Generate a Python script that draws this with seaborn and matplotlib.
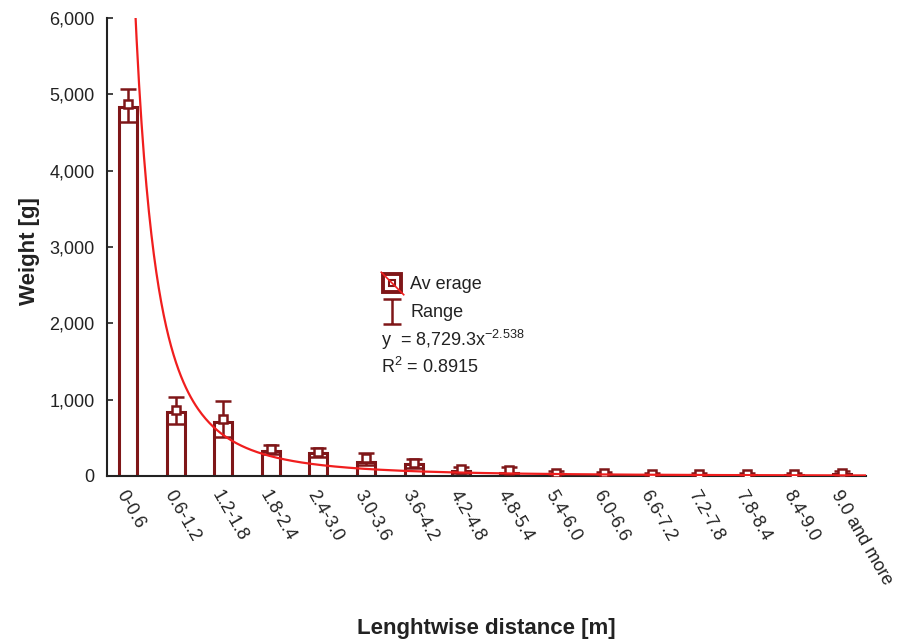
import numpy as np
import pandas as pd
import matplotlib
matplotlib.use("Agg")
import matplotlib.pyplot as plt
import seaborn as sns
from matplotlib.ticker import FuncFormatter
from matplotlib.lines import Line2D
from matplotlib.path import Path
from matplotlib.legend_handler import HandlerTuple

categories = ["0-0.6", "0.6-1.2", "1.2-1.8", "1.8-2.4", "2.4-3.0", "3.0-3.6",
              "3.6-4.2", "4.2-4.8", "4.8-5.4", "5.4-6.0", "6.0-6.6", "6.6-7.2",
              "7.2-7.8", "7.8-8.4", "8.4-9.0", "9.0 and more"]
bar_weight = [4840, 842, 712, 332, 297, 188, 153, 70, 45, 22, 18, 12, 12, 12, 12, 20]
avg_weight = [4870, 865, 747, 355, 319, 240, 175, 95, 78, 45, 42, 30, 30, 30, 30, 45]
range_low = [4642, 677, 515, 290, 255, 140, 110, 45, 35, 20, 20, 12, 12, 12, 12, 18]
range_high = [5066, 1039, 983, 406, 363, 297, 218, 122, 115, 60, 55, 40, 40, 40, 40, 60]
fit_a = 8729.3
fit_b = -2.538
r_squared = 0.8915

dark = "#7f1618"
red = "#f01e1e"
txt = "#222222"

sns.set_theme(style="white")
plt.rcParams['font.family'] = ['Liberation Sans', 'DejaVu Sans']
plt.rcParams['mathtext.fontset'] = 'custom'
plt.rcParams['mathtext.rm'] = 'Liberation Sans'
plt.rcParams['mathtext.it'] = 'Liberation Sans:italic'

fig = plt.figure(figsize=(9.01, 6.42), dpi=100)
ax = fig.add_axes([0.1188, 0.2586, 0.961 - 0.1188, 0.972 - 0.2586])

df = pd.DataFrame({"cat": categories, "w": bar_weight})
sns.barplot(data=df, x="cat", y="w", color="white", edgecolor=dark,
            linewidth=2.2, width=0.38, errorbar=None, ax=ax, zorder=2)
for p in ax.patches:
    p.set_facecolor("white")
    p.set_edgecolor(dark)

pos = np.arange(len(categories))
avg = np.array(avg_weight)
lo = np.array(range_low)
hi = np.array(range_high)
ax.errorbar(pos, avg, yerr=[np.maximum(avg - lo, 0), np.maximum(hi - avg, 0)],
            fmt="none", ecolor=dark, elinewidth=1.8, capsize=6, capthick=1.8, zorder=3)
ax.plot(pos, avg, linestyle="none", marker="s", markersize=6, mfc="white",
        mec=dark, mew=1.8, zorder=4)

xs = np.linspace(0, len(categories) - 0.5, 600)
ys = fit_a * (xs + 1) ** fit_b
sns.lineplot(x=xs, y=ys, color=red, linewidth=1.6, ax=ax, zorder=5)

ax.set_xlim(-0.44, 15.5)
ax.set_ylim(0, 6000)
ax.set_yticks([0, 1000, 2000, 3000, 4000, 5000, 6000])
ax.yaxis.set_major_formatter(FuncFormatter(lambda v, p: f"{int(v):,}"))
ax.set_xticks(pos)
ax.set_xticklabels(categories, rotation=-60, ha="left", va="top",
                   rotation_mode="anchor", fontsize=13, color=txt)
for lab in ax.get_yticklabels():
    lab.set_fontsize(13)
    lab.set_color(txt)

for s in ["top", "right"]:
    ax.spines[s].set_visible(False)
for s in ["left", "bottom"]:
    ax.spines[s].set_color(txt)
    ax.spines[s].set_linewidth(1.5)
ax.tick_params(axis="both", direction="in", length=4, width=1.2, color=txt,
               left=True, bottom=True, pad=9)
ax.tick_params(axis="x", pad=8)

ax.set_xlabel("Lenghtwise distance [m]", fontsize=16, fontweight="bold",
              color=txt, labelpad=0)
ax.xaxis.set_label_coords(0.5, -0.31)
ax.set_ylabel("Weight [g]", fontsize=16, fontweight="bold", color=txt)
ax.yaxis.set_label_coords(-0.088, 0.49)

# legend
outer = Line2D([], [], linestyle="none", marker="s", markersize=13, mfc="white",
               mec=dark, mew=2.8)
inner = Line2D([], [], linestyle="none", marker="s", markersize=4, mfc="none",
               mec=dark, mew=1.5)
diag = Line2D([], [], linestyle="none", marker=Path([(-1, 1), (1, -1)]),
              markersize=17, mec=red, mew=1.2)
ibeam = Path([(-0.75, -1), (0.75, -1), (0, -1), (0, 1), (-0.75, 1), (0.75, 1)],
             [Path.MOVETO, Path.LINETO, Path.MOVETO, Path.LINETO, Path.MOVETO, Path.LINETO])
h_rng = Line2D([], [], linestyle="none", marker=ibeam, markersize=18,
               mec=dark, mew=1.8, fillstyle="none")
leg = ax.legend([(outer, inner, diag), h_rng], ["Av erage", "Range"],
                handler_map={tuple: HandlerTuple(ndivide=1, pad=0)},
                loc="upper left", bbox_to_anchor=(0.3636, 0.437), frameon=False,
                fontsize=13, handlelength=1.05, handletextpad=0.45,
                labelspacing=0.62, borderaxespad=0, borderpad=0)
for t in leg.get_texts():
    t.set_color(txt)
ax.text(0.361, 0.297, "y  = " + f"{fit_a:,.1f}" + "x$^{\\mathrm{" + f"{fit_b}" + "}}$",
        transform=ax.transAxes, fontsize=13, color=txt, va="center")
ax.text(0.361, 0.238, f"R$^{{\\mathrm{{2}}}}$ = {r_squared}", transform=ax.transAxes,
        fontsize=13, color=txt, va="center")

fig.savefig("out.png", dpi=100, facecolor="white")
